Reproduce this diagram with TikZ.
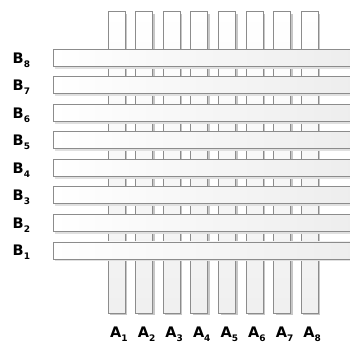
\documentclass[tikz,border=0pt]{standalone}
\usepackage{fontspec}
\newfontfamily\labfont{DejaVu Sans}[BoldFont={DejaVu Sans Bold}]
\usetikzlibrary{shadows}
\begin{document}
\begin{tikzpicture}[x=1pt,y=-1pt,
  barline/.style={draw=black!45, line width=0.7pt, inner sep=0pt, outer sep=0pt},
  vbar/.style={barline, rectangle, anchor=north west, minimum width=17pt, minimum height=301.5pt,
     top color=white, bottom color=black!6,
     drop shadow={shadow xshift=2.2pt, shadow yshift=-2.2pt, fill=black!22, opacity=1}},
  hbar/.style={barline, rectangle, anchor=north west, minimum width=300pt, minimum height=17pt,
     left color=white, right color=black!7,
     drop shadow={shadow xshift=1.5pt, shadow yshift=-2.5pt, fill=black!12, opacity=1}},
  lab/.style={anchor=base west, inner sep=0pt, font=\labfont\bfseries\fontsize{14.5}{15}\selectfont},
  sub/.style={}
]
\newcommand{\subtxt}[1]{\raisebox{-4pt}{\fontsize{9}{10}\selectfont #1}}
\useasboundingbox (0,0) rectangle (350,343);
\clip (0,0) rectangle (350,343);
\foreach \i in {1,...,8}{
  \pgfmathsetmacro{\L}{108+(\i-1)*27.6}
  \node[vbar] (a\i) at (\L,11.5) {};
  \node[lab] (la\i) at (\L+2,337.5) {A\subtxt{\i}};
}
\foreach \k in {1,...,8}{
  \pgfmathsetmacro{\T}{49+(8-\k)*27.55}
  \node[hbar] (b\k) at (53,\T) {};
  \node[lab] (lb\k) at (12.5,\T+14) {B\subtxt{\k}};
}
\end{tikzpicture}
\end{document}
